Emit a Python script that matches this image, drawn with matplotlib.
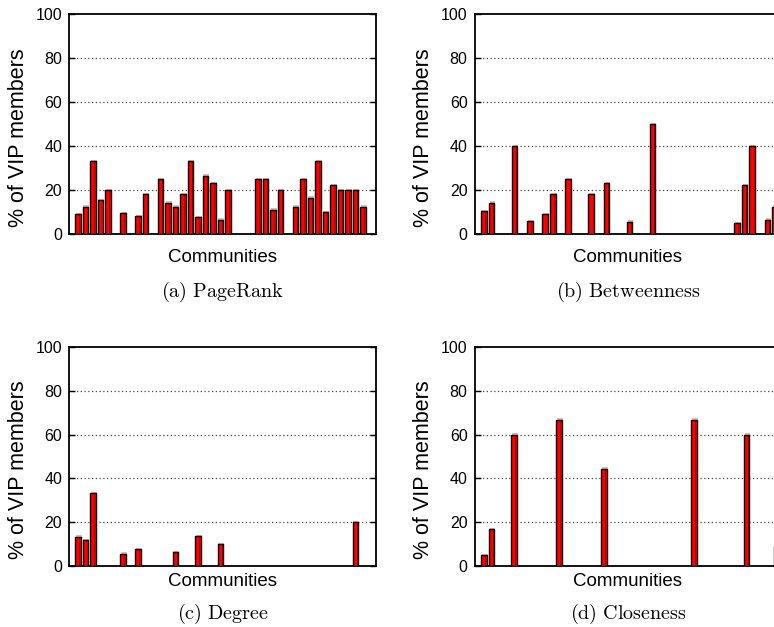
import matplotlib
matplotlib.use("Agg")
import matplotlib.pyplot as plt
import numpy as np

plt.rcParams['font.family'] = ['Liberation Sans', 'DejaVu Sans']
plt.rcParams['mathtext.fontset'] = 'cm'

# ---- data (slot index -> % of VIP members) ----
pagerank_slots = [1, 2, 3, 4, 5, 7, 9, 10, 12, 13, 14, 15, 16, 17, 18, 19, 20, 21,
                  25, 26, 27, 28, 30, 31, 32, 33, 34, 35, 36, 37, 38, 39]
pagerank_vals = [9.1, 12.5, 33.3, 15.4, 20.0, 9.5, 8.3, 18.2, 25.0, 14.3, 12.5, 18.2,
                 33.3, 7.7, 26.7, 23.1, 6.7, 20.0, 25.0, 25.0, 11.1, 20.0, 12.5, 25.0,
                 16.7, 33.3, 10.0, 22.2, 20.0, 20.0, 20.0, 12.5]

betweenness_slots = [1, 2, 5, 7, 9, 10, 12, 15, 17, 20, 23, 34, 35, 36, 38, 39]
betweenness_vals = [10.5, 14.3, 40.0, 5.9, 9.1, 18.2, 25.0, 18.2, 23.1, 5.6, 50.0,
                    5.0, 22.2, 40.0, 6.7, 12.5]

degree_slots = [1, 2, 3, 7, 9, 14, 17, 20, 38]
degree_vals = [13.3, 11.8, 33.3, 5.6, 7.7, 6.2, 13.6, 10.0, 20.0]

closeness_slots = [1, 2, 5, 11, 17, 29, 36, 40]
closeness_vals = [5.0, 16.7, 60.0, 66.7, 44.4, 66.7, 60.0, 9.1]

captions = ["(a)\\ PageRank", "(b)\\ Betweenness", "(c)\\ Degree", "(d)\\ Closeness"]
yticks = [0, 20, 40, 60, 80, 100]

W, H = 774, 627
fig = plt.figure(figsize=(W / 100, H / 100), dpi=100)


def px_axes(L, R, T, B):
    return [L / W, 1 - B / H, (R - L) / W, (B - T) / H]


panels = [
    (pagerank_slots, pagerank_vals, px_axes(69, 376, 14.3, 234.3), (-0.17, 40.76), 258, 292),
    (betweenness_slots, betweenness_vals, px_axes(474.5, 781.5, 14.3, 234.3), (-0.21, 39.83), 258, 292),
    (degree_slots, degree_vals, px_axes(69, 376, 347, 566), (-0.17, 40.76), 582, 614),
    (closeness_slots, closeness_vals, px_axes(474.5, 781.5, 347, 566), (-0.24, 40.69), 582, 614),
]

bw = 0.74
for i, (slots, vals, rect, xl, xlab_y, cap_y) in enumerate(panels):
    ax = fig.add_axes(rect)
    x = np.array(slots, dtype=float)
    h = np.array(vals, dtype=float)
    # shadow
    ax.bar(x + 0.13, h + 0.7, width=bw, color='#c4c4c4', linewidth=0, zorder=2)
    # fill
    ax.bar(x, h, width=bw, color='#ff0000', linewidth=0, zorder=3)
    # darker right strip
    ax.bar(x + bw * 0.33, h, width=bw * 0.14, color='#b00000', linewidth=0, zorder=3.5)
    # outline
    ax.bar(x, h, width=bw, fill=False, edgecolor='black', linewidth=1.0, zorder=4)

    ax.set_xlim(*xl)
    ax.set_ylim(0, 100)
    ax.set_yticks(yticks)
    ax.set_xticks([])
    for yv in yticks[1:-1]:
        ax.axhline(yv, color='#444444', linestyle=(0, (1, 2)), linewidth=0.9, zorder=1)
    ax.tick_params(axis='y', direction='in', length=4, width=1.0, right=True,
                   labelsize=11.5, pad=5)
    for s in ax.spines.values():
        s.set_linewidth(1.3)
    ax.set_ylabel("% of VIP members", fontsize=15.5, va='center')
    ax.yaxis.set_label_coords(-0.165, 0.44)
    ax.set_xlabel("Communities", fontsize=13.5, va='center')
    B_px = (1 - rect[1]) * H
    ax.xaxis.set_label_coords(0.5, -(xlab_y - B_px) / (rect[3] * H))
    cx = rect[0] + rect[2] / 2
    cy = 1 - cap_y / H
    fig.text(cx, cy, "$\\mathrm{" + captions[i] + "}$", ha='center', va='center',
             fontsize=14.5)

fig.savefig("out.png", dpi=100)
